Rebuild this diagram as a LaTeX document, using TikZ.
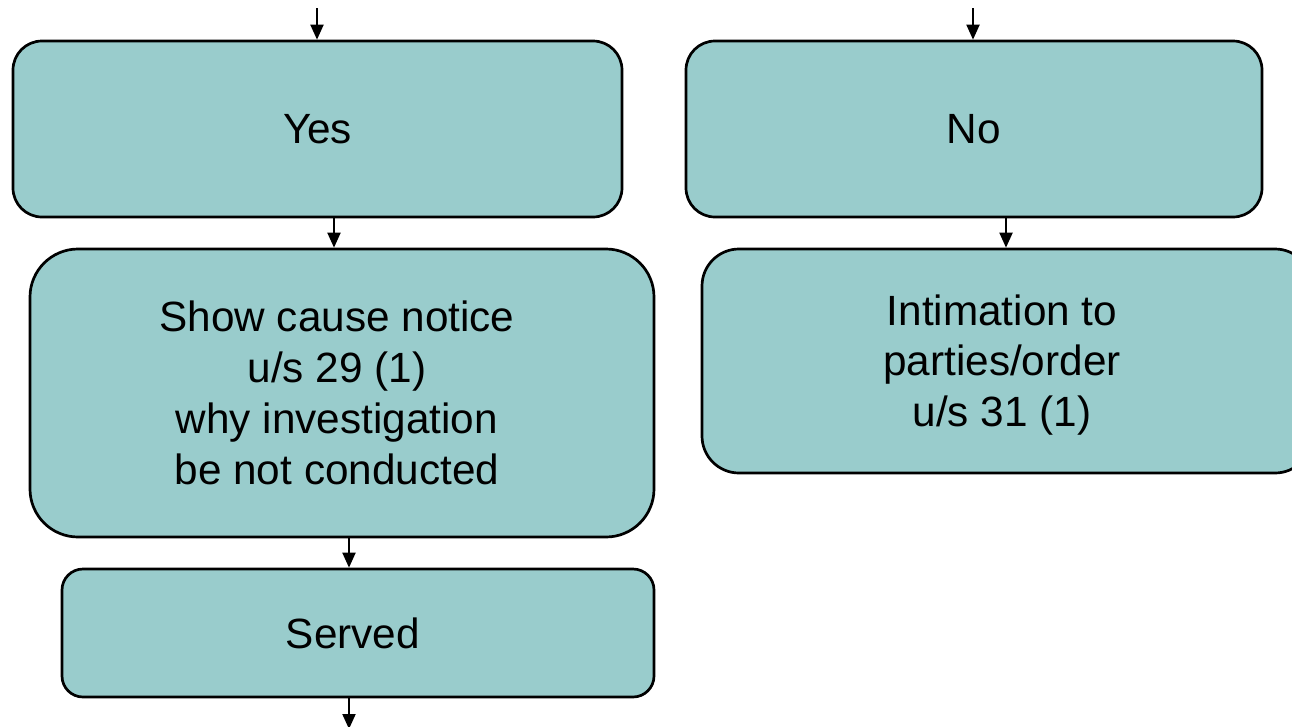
\documentclass[tikz,border=0pt]{standalone}
\usepackage{fontspec}
\setmainfont{Liberation Sans}
\usetikzlibrary{arrows.meta}
\definecolor{boxfill}{RGB}{153,204,204}
\begin{document}
\begin{tikzpicture}[x=1pt,y=-1pt,
  box/.style={draw=black,line width=2.7pt,fill=boxfill,rectangle,inner sep=0pt},
  txt/.style={inner sep=0pt,align=center,text=black,font=\fontsize{42.3}{50.8}\selectfont},
  arr/.style={draw=black,line width=2pt,-{Triangle[length=15pt,width=13pt]}}]
\useasboundingbox (0,0) rectangle (1292,726);
% boxes
\node[box,minimum width=609pt,minimum height=176pt,rounded corners=29pt] (yes) at (317.5,129) {};
\node[box,minimum width=576pt,minimum height=176pt,rounded corners=29pt] (no) at (974,129) {};
\node[box,minimum width=624pt,minimum height=288pt,rounded corners=48pt] (show) at (342,393) {};
\node[box,minimum width=610pt,minimum height=224pt,rounded corners=37pt] (intim) at (1007,361) {};
\node[box,minimum width=592pt,minimum height=128pt,rounded corners=21pt] (served) at (358,633) {};
% box texts
\node[txt] (yestxt) at (yes) {Yes};
\node[txt] (notxt) at (no) {No};
\node[txt,xshift=-5pt] (showtxt) at (show)
  {Show cause notice\\u/s 29 (1)\\why investigation\\be not conducted};
\node[txt,xshift=-5pt,yshift=-4pt] (intimtxt) at (intim)
  {Intimation to\\parties/order\\u/s 31 (1)};
\node[txt,xshift=-5pt] (servedtxt) at (served) {Served};
% connector positions
\coordinate (inyes) at (317,8);
\coordinate (inno) at (973,8);
\coordinate (xa) at (334,0);
\coordinate (xb) at (1006,0);
\coordinate (xc) at (349,0);
\coordinate (out) at (349,729);
% connectors
\draw[arr] (inyes) -- (yes.north -| inyes);
\draw[arr] (inno) -- (no.north -| inno);
\draw[arr] (yes.south -| xa) -- (show.north -| xa);
\draw[arr] (no.south -| xb) -- (intim.north -| xb);
\draw[arr] (show.south -| xc) -- (served.north -| xc);
\draw[arr] (served.south -| xc) -- (out);
\end{tikzpicture}
\end{document}
